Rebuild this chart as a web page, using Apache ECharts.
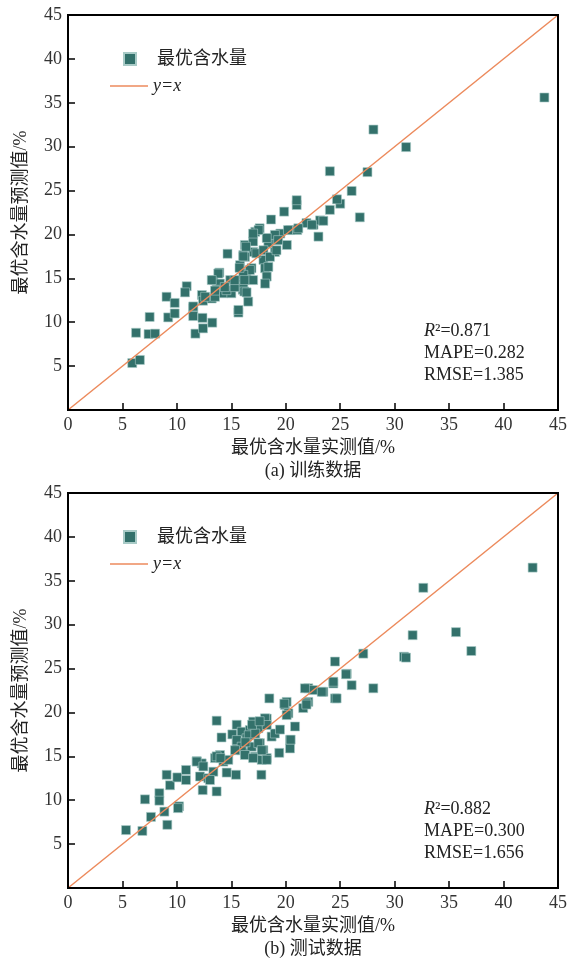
<!DOCTYPE html>
<html>
<head>
<meta charset="utf-8">
<script src="https://cdn.jsdelivr.net/npm/echarts@6/dist/echarts.min.js"></script>
<style>
	html, body { margin: 0; padding: 0; background: #fff; }
	#chart { width: 574px; height: 960px; }
</style>
</head>
<body>
<div id="chart"></div>
<script>
	// 训练数据 [实测值, 预测值]
	var trainData = [
		[5.9, 5.35], [6.6, 5.7], [6.25, 8.8], [7.4, 8.65], [8.0, 8.7], [7.5, 10.6], [9.05, 12.9], [9.8, 12.2],
		[9.2, 10.55], [9.8, 11.0], [10.9, 14.1], [10.75, 13.4], [11.5, 11.6], [11.5, 10.7], [11.7, 8.7], [12.4, 9.3],
		[12.35, 10.5], [13.25, 9.95], [12.3, 13.1], [12.4, 12.45], [13.2, 12.7], [13.35, 14.8], [13.9, 15.65], [13.95, 14.4],
		[13.65, 13.7], [14.25, 13.3], [14.9, 14.8], [15.0, 13.3], [14.65, 17.8], [15.65, 11.1], [16.05, 14.6], [16.05, 13.7],
		[16.55, 12.35], [15.8, 16.5], [16.1, 17.65], [16.25, 18.8], [16.85, 16.15], [16.4, 15.55], [17.0, 18.0], [17.0, 19.2],
		[17.2, 20.3], [17.6, 20.7], [17.95, 17.1], [18.1, 16.15], [18.25, 15.2], [18.1, 14.4], [18.4, 19.0], [18.65, 21.7],
		[19.0, 18.0], [19.15, 19.35], [19.5, 20.1], [20.1, 18.8], [19.85, 22.6], [20.4, 20.5], [21.0, 23.35], [21.05, 20.5],
		[21.9, 21.3], [22.55, 21.1], [23.0, 19.75], [24.05, 22.8], [25.0, 23.5], [23.15, 21.6], [23.45, 21.55], [22.4, 21.1],
		[26.8, 21.95], [43.75, 35.6], [28.05, 31.95], [31.05, 29.95], [24.05, 27.2], [27.5, 27.1], [26.05, 24.95], [24.7, 24.0],
		[21.0, 23.9], [21.15, 20.7], [20.2, 20.5], [19.0, 19.95], [18.25, 19.6], [17.5, 20.5], [17.0, 20.1], [16.35, 18.6],
		[16.25, 17.45], [16.7, 15.95], [16.1, 15.4], [16.1, 14.05], [16.2, 13.5], [17.3, 17.85], [17.95, 18.2], [18.55, 17.45],
		[18.4, 16.3], [19.15, 18.2], [19.3, 19.35], [13.8, 15.55], [13.2, 14.8], [14.55, 13.65], [13.5, 12.9], [11.5, 11.8],
		[15.65, 11.4], [16.1, 17.5], [15.75, 16.2], [12.6, 12.9], [13.5, 13.6], [14.4, 14.0], [15.3, 14.0], [15.3, 14.8],
		[16.4, 13.4], [17.0, 14.8], [16.2, 14.8]
	];
	// 测试数据 [实测值, 预测值]
	var testData = [
		[5.33, 6.6], [6.83, 6.5], [7.07, 10.1], [7.62, 8.1], [8.39, 10.8], [8.39, 9.95], [8.85, 8.7], [9.12, 7.2],
		[9.06, 12.9], [9.37, 11.7], [10.04, 12.6], [10.2, 9.3], [10.1, 9.1], [10.84, 13.45], [10.84, 12.3], [11.82, 14.45],
		[12.28, 14.2], [12.12, 12.7], [12.37, 11.15], [12.89, 12.5], [13.35, 13.25], [13.65, 11.0], [13.65, 19.06], [13.5, 14.8],
		[14.1, 17.15], [13.96, 15.15], [14.27, 14.4], [14.57, 13.15], [14.72, 14.6], [15.43, 12.9], [15.09, 17.5], [15.49, 18.6],
		[15.49, 16.5], [15.95, 17.8], [15.95, 15.7], [16.25, 15.35], [16.4, 17.05], [16.7, 18.0], [16.87, 16.1], [17.0, 18.95],
		[17.17, 14.95], [17.48, 18.2], [17.63, 16.5], [17.79, 14.6], [17.94, 15.7], [18.25, 14.8], [18.25, 19.3], [17.76, 12.9],
		[18.49, 21.6], [18.7, 17.25], [19.0, 17.6], [19.47, 18.05], [19.4, 15.4], [19.93, 20.85], [20.08, 21.2], [20.24, 19.9],
		[20.39, 16.85], [20.39, 15.9], [20.85, 18.4], [21.6, 20.5], [22.07, 21.2], [22.07, 22.75], [22.5, 22.55], [23.45, 22.35],
		[24.37, 23.3], [24.52, 25.8], [24.52, 21.6], [25.6, 24.4], [24.37, 23.5], [26.05, 23.1], [28.04, 22.75], [24.67, 21.6],
		[23.3, 22.35], [21.9, 21.05], [42.67, 36.5], [32.63, 34.2], [31.65, 28.8], [35.63, 29.15], [37.04, 27.0], [30.86, 26.35],
		[31.04, 26.25], [27.12, 26.7], [25.53, 24.35], [18.09, 19.33], [18.25, 18.57], [15.5, 16.85], [15.95, 16.1], [15.34, 15.7],
		[16.25, 15.15], [17.48, 16.5], [17.79, 15.7], [17.0, 14.8], [18.25, 14.6], [20.45, 16.9], [19.86, 21.0], [20.08, 19.7],
		[21.9, 20.9], [21.76, 22.75], [11.82, 14.4], [12.43, 13.85], [13.65, 15.0], [14.0, 14.8], [13.04, 12.3], [16.6, 17.4],
		[17.2, 17.6], [16.9, 18.6], [17.6, 19.0], [16.3, 16.6]
	];
	var diagLine = [[0, 0], [45, 45]];
	var axisTicks = [0, 5, 10, 15, 20, 25, 30, 35, 40, 45];
	var statsTrain = ['0.871', '0.282', '1.385'];
	var statsTest = ['0.882', '0.300', '1.656'];
	var captions = ['(a) 训练数据', '(b) 测试数据'];

	var serif = '"Liberation Serif", "Noto Sans CJK SC", serif';
	var ptColor = '#33716b';
	var lineColor = '#ec8a5c';
	var grids = [
		{ left: 68, top: 15, width: 490, height: 395, show: true, backgroundColor: 'transparent', borderColor: '#000', borderWidth: 2 },
		{ left: 68, top: 493, width: 490, height: 395, show: true, backgroundColor: 'transparent', borderColor: '#000', borderWidth: 2 }
	];
	var axMin = axisTicks[0], axMax = axisTicks[axisTicks.length - 1];

	var xAxes = [], yAxes = [], series = [], legends = [], graphics = [];
	grids.forEach(function(g, i) {
		xAxes.push({
			gridIndex: i, type: 'value', min: axMin, max: axMax, interval: 5,
			name: '最优含水量实测值/%', nameLocation: 'middle', nameGap: 29,
			nameTextStyle: { fontFamily: serif, fontSize: 18, color: '#222' },
			axisLine: { show: true, onZero: false, lineStyle: { color: '#000', width: 1.5 } },
			axisTick: { inside: true, length: 7, lineStyle: { color: '#000', width: 1.5 } },
			axisLabel: { fontFamily: serif, fontSize: 18, color: '#333', margin: 6 },
			splitLine: { show: false }
		});
		yAxes.push({
			gridIndex: i, type: 'value', min: axMin, max: axMax, interval: 5,
			name: '最优含水量预测值/%', nameLocation: 'middle', nameGap: 38,
			nameTextStyle: { fontFamily: serif, fontSize: 18, color: '#222' },
			axisLine: { show: true, onZero: false, lineStyle: { color: '#000', width: 1.5 } },
			axisTick: { inside: true, length: 7, lineStyle: { color: '#000', width: 1.5 } },
			axisLabel: {
				fontFamily: serif, fontSize: 18, color: '#333', margin: 6,
				formatter: function(v) { return v === 0 ? '' : v; }
			},
			splitLine: { show: false }
		});
		series.push({
			name: '最优含水量', type: 'scatter', xAxisIndex: i, yAxisIndex: i,
			symbol: 'rect', symbolSize: 9,
			itemStyle: { color: ptColor, borderColor: '#a9cbc7', borderWidth: 0.6, opacity: 1 },
			data: i === 0 ? trainData : testData, z: 3
		});
		series.push({
			name: 'y=x', type: 'line', xAxisIndex: i, yAxisIndex: i,
			symbol: 'none', data: diagLine, z: 4,
			lineStyle: { color: lineColor, width: 1.5 }, itemStyle: { color: lineColor }
		});
		// 散点图例
		legends.push({
			left: 123, top: g.top + 35, padding: 0, itemWidth: 12, itemHeight: 12,
			data: [{ name: '最优含水量', icon: 'rect' }], selectedMode: false,
			formatter: '{a|{name}}',
			textStyle: {
				rich: { a: { fontFamily: serif, fontSize: 18, lineHeight: 18, color: '#222', padding: [0, 0, 0, 16] } }
			}
		});
		// 直线图例
		legends.push({
			left: 110, top: g.top + 62, padding: 0, itemWidth: 38, itemHeight: 1.5,
			data: [{ name: 'y=x', icon: 'rect' }], selectedMode: false,
			formatter: '{i|{name}}',
			textStyle: {
				rich: { i: { fontFamily: serif, fontStyle: 'italic', fontSize: 18, lineHeight: 18, color: '#222' } }
			}
		});
		// 外框
		graphics.push({
			type: 'rect', silent: true, z: 100,
			shape: { x: g.left, y: g.top, width: g.width, height: g.height },
			style: { fill: null, stroke: '#000', lineWidth: 2 }
		});
		var st = i === 0 ? statsTrain : statsTest;
		var base = g.top + 316;
		graphics.push({
			type: 'text', x: 424, y: base,
			style: {
				text: '{i|R}²=' + st[0], fill: '#222', font: '18px ' + serif, verticalAlign: 'middle',
				rich: { i: { fontStyle: 'italic', fontFamily: serif, fontSize: 18, fill: '#222' } }
			}
		});
		graphics.push({
			type: 'text', x: 424, y: base + 22,
			style: { text: 'MAPE=' + st[1], fill: '#222', font: '18px ' + serif, verticalAlign: 'middle' }
		});
		graphics.push({
			type: 'text', x: 424, y: base + 44,
			style: { text: 'RMSE=' + st[2], fill: '#222', font: '18px ' + serif, verticalAlign: 'middle' }
		});
		graphics.push({
			type: 'text', x: 313, y: g.top + g.height + 61,
			style: { text: captions[i], fill: '#222', font: '18px ' + serif, align: 'center', verticalAlign: 'middle' }
		});
	});

	var myChart = echarts.init(document.getElementById('chart'));
	myChart.setOption({
		animation: false,
		grid: grids,
		xAxis: xAxes,
		yAxis: yAxes,
		legend: legends,
		series: series,
		graphic: graphics
	});
</script>
</body>
</html>
